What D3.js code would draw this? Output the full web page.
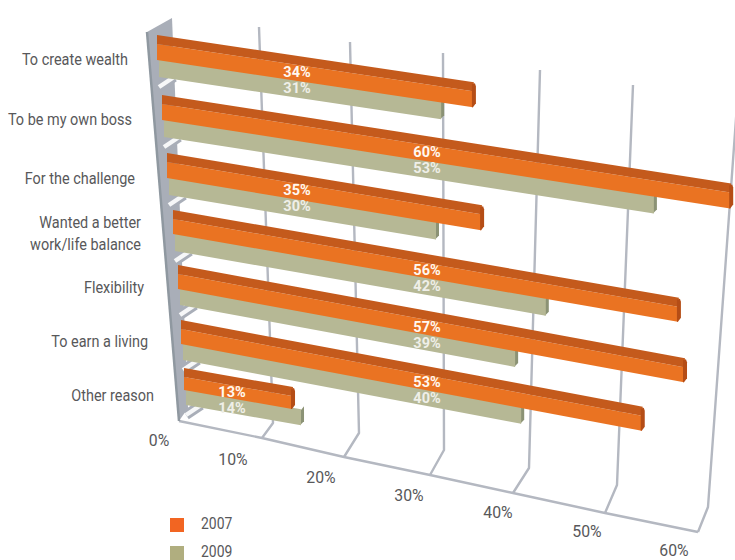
<!DOCTYPE html>
<html><head><meta charset="utf-8">
<script src="https://cdn.jsdelivr.net/npm/d3@7"></script>
<style>html,body{margin:0;background:#fff}svg{display:block}text{font-family:Roboto,sans-serif}</style>
</head><body><svg width="735" height="560"></svg>
<script>
const categories=[["To create wealth"],["To be my own boss"],["For the challenge"],["Wanted a better","work/life balance"],["Flexibility"],["To earn a living"],["Other reason"]];
const values2007=[34,60,35,56,57,53,13];
const values2009=[31,53,30,42,39,40,14];
const ticks=[0,10,20,30,40,50,60];
const legendLabels=["2007","2009"];

const rows=d3.range(categories.length);
const sc=r=>d3.scaleLinear().domain(rows).range(r);
const startX=sc([157,162,167,173,178,181,184]);
const startY=sc([35,95,153,210,265,320,368]);
const slope=sc([.148,.155,.165,.173,.183,.187,.172]);
const ppO=sc([9.38,9.52,9.06,9.07,8.93,8.75,8.54]);
const ppG=sc([9.2,9.3,9.0,8.9,8.67,8.53,8.43]);
const hO=sc([25,25,25,24,24,24,22]);
const hG=sc([18,18,18,18,17,17,16]);
const labelX=d3.scaleOrdinal().domain(rows).range([297,427,297,427,427,427,232]);

const tk=r=>d3.scaleLinear().domain(ticks).range(r);
const baseX=tk([179,262,344,430,513,605,698]), baseY=tk([421,438,457,475,493,513,532]);
const kinkX=tk([186,273,359,444,529,617,708]), kinkY=tk([408,423,433,450,468,485,507]);
const topX=tk([158,259,350,443,540,633,737]), topY=tk([18,27,42,53,70,85,105]);
const labX=tk([159,233,321,409,498,587,674]), labY=tk([440,459,477,495,512,531,550]);

const svg=d3.select("svg");
const defs=svg.append("defs");
defs.append("filter").attr("id","soft").attr("x","-2%").attr("y","-2%").attr("width","104%").attr("height","104%")
  .append("feGaussianBlur").attr("stdDeviation",0.7);
const line=d3.line();
const GRID="#b4b8c1",WALL="#a9aeb8",TXT="#58585a";

const art=svg.append("g").attr("filter","url(#soft)");
art.selectAll(".grid").data(ticks.slice(1)).join("path").attr("fill","none").attr("stroke",GRID).attr("stroke-width",2.4)
  .attr("stroke-linejoin","round")
  .attr("d",v=>line([[baseX(v),baseY(v)],[kinkX(v),kinkY(v)],[topX(v),topY(v)]]));
art.append("path").attr("fill","none").attr("stroke",GRID).attr("stroke-width",2.4)
  .attr("d",line(ticks.map(v=>[baseX(v),baseY(v)])));
// back wall
art.append("path").attr("fill",WALL)
  .attr("d",line([[topX(0)-11,topY(0)+14],[topX(0)+14,topY(0)],[kinkX(0)+2,kinkY(0)],[baseX(0),baseY(0)]])+"Z");
art.append("path").attr("fill","none").attr("stroke","#8f98a0").attr("stroke-width",2.5)
  .attr("d",line([[topX(0)-11,topY(0)+14],[baseX(0),baseY(0)]]));
// brackets between rows
const gapPath=r=>{const x=startX(r),y=startY(r)+hO(r)+hG(r);return line([[x+2,y+9],[x+17,y-1]]);};
art.selectAll(".gapB").data(rows).join("path").attr("fill","none").attr("stroke",WALL).attr("stroke-width",10).attr("d",gapPath);
art.selectAll(".gap").data(rows).join("path").attr("fill","none").attr("stroke","#f6f7f8").attr("stroke-width",4.5).attr("d",gapPath);

function quad(r,pp,dx,dy,h,v){
  const x0=startX(r)+dx,y0=startY(r)+dy,x1=x0+pp(r)*v,y1=y0+slope(r)*pp(r)*v;
  return {x0,y0,x1,y1,h};
}
const bar=art.selectAll(".row").data(rows).join("g");
bar.each(function(r){
  const g=d3.select(this);
  const O=quad(r,ppO,0,0,hO(r),values2007[r]);
  const G=quad(r,ppG,2,hO(r)-1,hG(r),values2009[r]);
  g.append("path").attr("fill","#8b9274").attr("d",line([[G.x1-4,G.y1+2],[G.x1,G.y1-3],[G.x1,G.y1+G.h-4],[G.x1-4,G.y1+G.h]])+"Z");
  g.append("path").attr("fill","#b6b895").attr("d",line([[G.x0,G.y0],[G.x1-3,G.y1],[G.x1-3,G.y1+G.h],[G.x0,G.y0+G.h]])+"Z");
  const dark=9;
  g.append("path").attr("fill","#ea7322").attr("d",line([[O.x0,O.y0+dark],[O.x1-3,O.y1+dark],[O.x1-3,O.y1+O.h],[O.x0,O.y0+O.h]])+"Z");
  g.append("path").attr("fill","#c45a1c").attr("d",line([[O.x0,O.y0],[O.x1-2,O.y1],[O.x1-3,O.y1+dark],[O.x0,O.y0+dark]])+"Z");
  g.append("path").attr("fill","#b54e18").attr("d",line([[O.x1-4,O.y1+2],[O.x1-1,O.y1+1],[O.x1,O.y1+4],[O.x1,O.y1+O.h-4],[O.x1-3,O.y1+O.h],[O.x1-4,O.y1+O.h]])+"Z");
});

// value labels
function vy(r,dy){return startY(r)+slope(r)*(labelX(r)-startX(r))+dy;}
const vals=svg.append("g").attr("text-anchor","middle").attr("font-size",14.5).attr("font-weight","bold").attr("dominant-baseline","central");
vals.selectAll(".a").data(rows).join("text").attr("x",labelX).attr("y",r=>vy(r,16.5)).attr("fill","#fff8f0").text(r=>values2007[r]+"%");
vals.selectAll(".b").data(rows).join("text").attr("x",labelX).attr("y",r=>vy(r,32.5)).attr("fill","#efefe8").text(r=>values2009[r]+"%");

// narrow text: the reference face is condensed
const place=(x,y,k)=>`translate(${x},${y}) scale(${k},1)`;
const catRight=sc([128,132,135,141,144,148,154]);
const catY=sc([59,119,178,233,287,341,395]);
const catLines=rows.flatMap(r=>categories[r].map((t,i)=>({r,t,i,n:categories[r].length})));
svg.append("g").attr("text-anchor","end").attr("font-size",17).attr("fill",TXT)
  .selectAll("text").data(catLines).join("text")
  .attr("transform",d=>place(catRight(d.r),catY(d.r)+6+(d.i-(d.n-1)/2)*22,.85)).text(d=>d.t);

svg.append("g").attr("text-anchor","middle").attr("font-size",17).attr("fill",TXT)
  .selectAll("text").data(ticks).join("text").attr("transform",v=>place(labX(v),labY(v)+6,.93)).text(v=>v+"%");

// legend
const legY=d3.scalePoint().domain(legendLabels).range([525,553]);
const legC=d3.scaleOrdinal().domain(legendLabels).range(["#f26522","#b0ae7f"]);
const leg=svg.append("g");
leg.selectAll("rect").data(legendLabels).join("rect").attr("x",170).attr("y",d=>legY(d)-7).attr("width",14).attr("height",14).attr("fill",legC);
leg.selectAll("text").data(legendLabels).join("text").attr("font-size",16).attr("fill",TXT)
  .attr("transform",d=>place(201,legY(d)+4,.87)).text(d=>d);
</script></body></html>
